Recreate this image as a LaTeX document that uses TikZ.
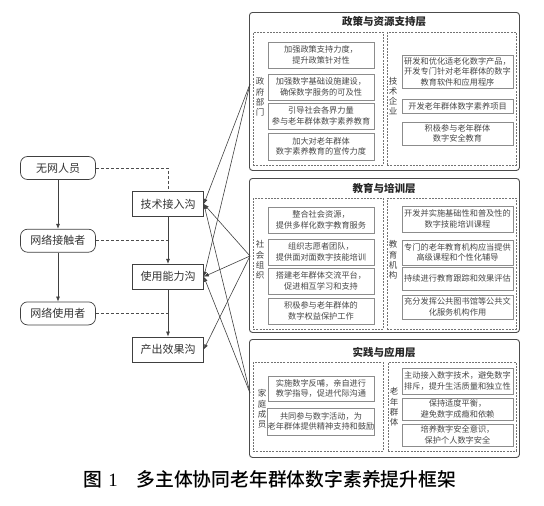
\documentclass[tikz,border=0pt]{standalone}
\usepackage{fontspec}
\setmainfont{Noto Sans CJK SC}
\newfontfamily\numfont{Liberation Serif}
\newfontfamily\capfont[UprightFont=* Medium]{Noto Sans CJK SC}
\usetikzlibrary{positioning,arrows.meta}

\begin{document}
\begin{tikzpicture}[x=1pt, y=-1pt,
  font=\fontsize{8.2}{10.6}\selectfont,
  panel/.style={draw=black!70, line width=0.9pt, rounded corners=3pt,
                anchor=north west, inner sep=0pt},
  grp/.style={draw=black!55, dash pattern=on 2pt off 1.2pt, line width=0.5pt,
              anchor=north west, inner sep=0pt},
  ttl/.style={font=\bfseries\fontsize{10.5}{12}\selectfont, text=black!85},
  item/.style={draw=black!45, line width=0.5pt, text=black!72, align=center,
               inner sep=0pt},
  lw/.style={item, minimum width=106pt},
  rw/.style={item, minimum width=111pt},
  vlab/.style={align=center, text=black!75, inner sep=1pt,
               font=\fontsize{8.5}{10.3}\selectfont},
  stage/.style={draw=black!75, line width=0.7pt, rounded corners=7pt,
                minimum width=75pt, minimum height=23pt, text=black!80,
                font=\fontsize{11}{13}\selectfont},
  gap/.style={draw=black!75, line width=0.7pt, minimum width=71pt,
              minimum height=25pt, text=black!80,
              font=\fontsize{11}{13}\selectfont},
  arr/.style={-{Latex[length=5pt,width=4pt]}, black!75, line width=0.6pt},
  link/.style={black!70, line width=0.6pt, dash pattern=on 3pt off 2pt}
]
\useasboundingbox (0,0) rectangle (544,506);

% left: stages and gaps
\node[stage] (nonet) at (58,168) {无网人员};
\node[stage, below=49pt of nonet]   (contact) {网络接触者};
\node[stage, below=49pt of contact] (user)    {网络使用者};
\node[gap] (tech) at (168,204) {技术接入沟};
\node[gap, below=47pt of tech] (use) {使用能力沟};
\node[gap, below=47pt of use]  (out) {产出效果沟};

\draw[arr] (nonet) -- (contact);
\draw[arr] (contact) -- (user);
\draw[arr] (tech) -- (use);
\draw[arr] (use) -- (out);
\draw[link] (nonet.east) -| (tech.north);
\draw[link] (contact.east) -- (contact.east -| tech.center);
\draw[link] (user.east) -- (user.east -| use.center);

% policy layer
\node[panel, minimum width=270pt, minimum height=158pt] (polP) at (249,12) {};
\node[ttl] (polT) at (384,22) {政策与资源支持层};
\node[grp, minimum width=130pt, minimum height=133pt] (govG) at (253,32) {};
\node[grp, minimum width=129pt, minimum height=133pt] (entG) at (387,32) {};
\node[vlab] (gov) at (260,97) {政\\府\\部\\门};
\node[lw, minimum height=26pt] (p1) at (321,55)    {加强政策支持力度，\\提升政策针对性};
\node[lw, minimum height=26pt] (p2) at (321,87)    {加强数字基础设施建设，\\确保数字服务的可及性};
\node[lw, minimum height=26pt] (p3) at (321,116)   {引导社会各界力量\\参与老年群体数字素养教育};
\node[lw, minimum height=27pt] (p4) at (321,146.5) {加大对老年群体\\数字素养教育的宣传力度};
\node[vlab] (ent) at (393,96) {技\\术\\企\\业};
\node[rw, minimum height=33pt] (t1) at (457.5,71.5)  {研发和优化适老化数字产品，\\开发专门针对老年群体的数字\\教育软件和应用程序};
\node[rw, minimum height=14pt] (t2) at (457.5,106.5) {开发老年群体数字素养项目};
\node[rw, minimum height=23pt] (t3) at (457.5,133.5) {积极参与老年群体\\数字安全教育};

% education layer
\node[panel, minimum width=270pt, minimum height=154pt] (eduP) at (249,178) {};
\node[ttl] (eduT) at (384,188) {教育与培训层};
\node[grp, minimum width=130pt, minimum height=131pt] (socG) at (253,198) {};
\node[grp, minimum width=129pt, minimum height=131pt] (insG) at (387,198) {};
\node[vlab] (soc) at (260,260) {社\\会\\组\\织};
\node[lw, minimum height=26pt] (s1) at (321,220) {整合社会资源，\\提供多样化数字教育服务};
\node[lw, minimum height=26pt] (s2) at (321,252) {组织志愿者团队，\\提供面对面数字技能培训};
\node[lw, minimum height=26pt] (s3) at (321,281) {搭建老年群体交流平台，\\促进相互学习和支持};
\node[lw, minimum height=26pt] (s4) at (321,311) {积极参与老年群体的\\数字权益保护工作};
\node[vlab] (ins) at (393,260) {教\\育\\机\\构};
\node[rw, minimum height=26pt] (e1) at (457.5,219)   {开发并实施基础性和普及性的\\数字技能培训课程};
\node[rw, minimum height=25pt] (e2) at (457.5,252.5) {专门的老年教育机构应当提供\\高级课程和个性化辅导};
\node[rw, minimum height=23pt] (e3) at (457.5,278.5) {持续进行教育跟踪和效果评估};
\node[rw, minimum height=24pt] (e4) at (457.5,307)   {充分发挥公共图书馆等公共文\\化服务机构作用};

% practice layer
\node[panel, minimum width=270pt, minimum height=118pt] (praP) at (249,339) {};
\node[ttl] (praT) at (384,352) {实践与应用层};
\node[grp, minimum width=130pt, minimum height=89pt] (famG) at (253,362) {};
\node[grp, minimum width=128pt, minimum height=89pt] (oldG) at (388,362) {};
\node[vlab] (fam) at (262,409) {家\\庭\\成\\员};
\node[lw, minimum height=25pt] (f1) at (321,388.5) {实施数字反哺，亲自进行\\教学指导，促进代际沟通};
\node[lw, minimum height=27pt] (f2) at (321,421.5) {共同参与数字活动，为\\老年群体提供精神支持和鼓励};
\node[vlab] (old) at (394,407) {老\\年\\群\\体};
\node[rw, minimum height=26pt] (o1) at (457.5,381) {主动接入数字技术，避免数字\\排斥，提升生活质量和独立性};
\node[rw, minimum height=22pt] (o2) at (457.5,409) {保持适度平衡，\\避免数字成瘾和依赖};
\node[rw, minimum height=22pt] (o3) at (457.5,435) {培养数字安全意识，\\保护个人数字安全};

% actors -> gaps
\coordinate (govsrc) at (250,84);
\coordinate (socsrc) at (250,256);
\coordinate (famsrc) at (250,393);
\foreach \g in {tech,use} \draw[arr] (govsrc) -- (\g.east);
\foreach \g in {tech,use,out} \draw[arr] (socsrc) -- (\g.east);
\foreach \g in {tech,use} \draw[arr] (famsrc) -- (\g.east);

\node (cap) at (270,479)
  {\capfont\fontsize{18.8}{21}\selectfont 图\hspace{0.3em}{\numfont 1}\hspace{1em}多主体协同老年群体数字素养提升框架};
\end{tikzpicture}
\end{document}
